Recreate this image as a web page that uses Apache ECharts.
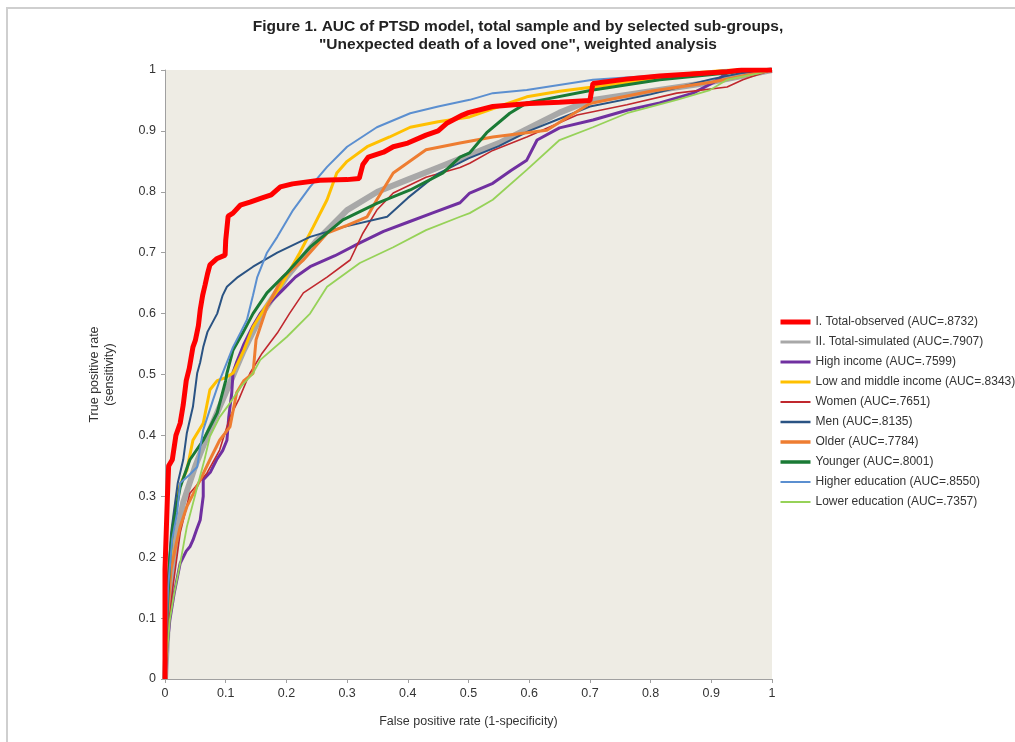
<!DOCTYPE html>
<html>
<head>
<meta charset="utf-8">
<script src="https://cdn.jsdelivr.net/npm/echarts@6/dist/echarts.min.js"></script>
<style>
html,body{margin:0;padding:0;background:#fff;}
#chart{position:absolute;left:0;top:0;width:1015px;height:742px;}
#frame{position:absolute;left:6px;top:7px;width:1015px;height:742px;border-top:2px solid #cfcfcf;border-left:2px solid #cfcfcf;pointer-events:none;}
</style>
</head>
<body>
<div id="chart"></div>
<div id="frame"></div>
<script>
const seriesNames = [
  "I. Total-observed (AUC=.8732)",
  "II. Total-simulated (AUC=.7907)",
  "High income (AUC=.7599)",
  "Low and middle income (AUC=.8343)",
  "Women (AUC=.7651)",
  "Men (AUC=.8135)",
  "Older (AUC=.7784)",
  "Younger (AUC=.8001)",
  "Higher education (AUC=.8550)",
  "Lower education (AUC=.7357)"
];
const xTicks = [0,0.1,0.2,0.3,0.4,0.5,0.6,0.7,0.8,0.9,1];
const yTicks = [0,0.1,0.2,0.3,0.4,0.5,0.6,0.7,0.8,0.9,1];

const totalObserved = [[0,0],[0,0.18],[0.004,0.3],[0.006,0.35],[0.012,0.36],[0.018,0.4],[0.025,0.42],[0.03,0.45],[0.035,0.49],[0.04,0.51],[0.046,0.545],[0.05,0.556],[0.055,0.58],[0.058,0.606],[0.062,0.63],[0.066,0.647],[0.07,0.665],[0.074,0.68],[0.085,0.69],[0.099,0.696],[0.1,0.72],[0.104,0.76],[0.112,0.765],[0.124,0.778],[0.14,0.783],[0.16,0.79],[0.175,0.795],[0.19,0.808],[0.21,0.813],[0.255,0.819],[0.3,0.82],[0.32,0.822],[0.326,0.845],[0.335,0.857],[0.36,0.865],[0.376,0.874],[0.4,0.88],[0.43,0.893],[0.45,0.9],[0.465,0.913],[0.49,0.926],[0.5,0.93],[0.54,0.94],[0.6,0.945],[0.65,0.947],[0.7,0.95],[0.705,0.978],[0.76,0.985],[0.815,0.99],[0.926,0.997],[0.95,1],[1,1]];
const totalSimulated = [[0,0],[0.005,0.1],[0.01,0.17],[0.02,0.24],[0.03,0.29],[0.05,0.35],[0.07,0.4],[0.1,0.47],[0.13,0.54],[0.16,0.6],[0.2,0.66],[0.25,0.72],[0.3,0.77],[0.35,0.8],[0.4,0.82],[0.45,0.84],[0.5,0.86],[0.55,0.88],[0.6,0.905],[0.65,0.93],[0.7,0.95],[0.8,0.965],[0.9,0.98],[0.95,0.99],[1,1]];
const highIncome = [[0,0],[0.003,0.05],[0.008,0.097],[0.015,0.14],[0.025,0.19],[0.035,0.21],[0.041,0.217],[0.046,0.228],[0.052,0.245],[0.058,0.261],[0.063,0.3],[0.063,0.327],[0.075,0.34],[0.085,0.36],[0.095,0.375],[0.102,0.392],[0.105,0.43],[0.11,0.47],[0.112,0.502],[0.118,0.52],[0.13,0.55],[0.145,0.58],[0.157,0.6],[0.175,0.62],[0.194,0.639],[0.215,0.66],[0.239,0.677],[0.28,0.695],[0.321,0.716],[0.36,0.735],[0.4,0.75],[0.44,0.765],[0.486,0.782],[0.502,0.798],[0.54,0.814],[0.57,0.835],[0.596,0.852],[0.613,0.885],[0.65,0.905],[0.705,0.918],[0.761,0.934],[0.815,0.946],[0.87,0.962],[0.903,0.979],[0.926,0.995],[0.95,1],[1,1]];
const lowMiddleIncome = [[0,0],[0.003,0.1],[0.008,0.18],[0.013,0.25],[0.021,0.31],[0.036,0.343],[0.046,0.392],[0.063,0.42],[0.074,0.475],[0.086,0.49],[0.1,0.495],[0.112,0.502],[0.13,0.54],[0.145,0.578],[0.165,0.61],[0.19,0.644],[0.205,0.67],[0.222,0.7],[0.244,0.742],[0.267,0.787],[0.283,0.831],[0.3,0.85],[0.333,0.874],[0.37,0.89],[0.404,0.906],[0.45,0.915],[0.502,0.923],[0.55,0.94],[0.596,0.956],[0.65,0.965],[0.705,0.972],[0.8,0.985],[0.87,0.995],[0.93,1],[1,1]];
const women = [[0,0],[0.005,0.08],[0.013,0.151],[0.025,0.24],[0.041,0.305],[0.069,0.338],[0.09,0.376],[0.107,0.43],[0.122,0.46],[0.135,0.491],[0.14,0.502],[0.16,0.535],[0.185,0.568],[0.205,0.6],[0.228,0.634],[0.267,0.66],[0.305,0.688],[0.326,0.732],[0.349,0.77],[0.376,0.798],[0.43,0.824],[0.486,0.84],[0.502,0.847],[0.54,0.868],[0.596,0.89],[0.679,0.926],[0.761,0.943],[0.843,0.962],[0.926,0.972],[0.952,0.984],[0.97,0.99],[1,1]];
const men = [[0,0],[0.003,0.141],[0.01,0.24],[0.021,0.322],[0.03,0.36],[0.036,0.404],[0.046,0.447],[0.053,0.502],[0.058,0.52],[0.063,0.545],[0.07,0.57],[0.086,0.6],[0.095,0.63],[0.102,0.644],[0.12,0.66],[0.145,0.677],[0.185,0.7],[0.239,0.726],[0.293,0.742],[0.366,0.759],[0.4,0.79],[0.45,0.83],[0.5,0.855],[0.55,0.875],[0.6,0.9],[0.65,0.92],[0.7,0.94],[0.8,0.96],[0.9,0.985],[0.95,0.995],[1,1]];
const older = [[0,0],[0.004,0.1],[0.01,0.18],[0.018,0.22],[0.025,0.25],[0.036,0.283],[0.058,0.327],[0.074,0.36],[0.09,0.392],[0.107,0.414],[0.118,0.47],[0.13,0.49],[0.145,0.502],[0.15,0.557],[0.168,0.611],[0.194,0.66],[0.228,0.688],[0.267,0.732],[0.3,0.745],[0.333,0.759],[0.349,0.787],[0.376,0.831],[0.43,0.869],[0.486,0.88],[0.54,0.89],[0.629,0.901],[0.7,0.945],[0.8,0.965],[0.9,0.98],[1,1]];
const younger = [[0,0],[0.004,0.12],[0.008,0.2],[0.013,0.25],[0.025,0.315],[0.041,0.36],[0.063,0.392],[0.086,0.437],[0.1,0.49],[0.102,0.502],[0.112,0.54],[0.128,0.568],[0.145,0.6],[0.168,0.634],[0.201,0.667],[0.239,0.709],[0.293,0.754],[0.349,0.781],[0.404,0.803],[0.458,0.831],[0.486,0.857],[0.502,0.864],[0.53,0.897],[0.568,0.929],[0.596,0.946],[0.705,0.967],[0.815,0.984],[0.926,0.995],[0.96,1],[1,1]];
const higherEducation = [[0,0],[0.005,0.15],[0.012,0.23],[0.02,0.273],[0.025,0.322],[0.04,0.335],[0.053,0.348],[0.058,0.38],[0.063,0.409],[0.079,0.458],[0.09,0.49],[0.102,0.52],[0.112,0.545],[0.125,0.57],[0.135,0.59],[0.145,0.63],[0.152,0.66],[0.168,0.7],[0.185,0.726],[0.211,0.77],[0.239,0.808],[0.267,0.841],[0.3,0.874],[0.349,0.906],[0.404,0.929],[0.45,0.94],[0.502,0.951],[0.54,0.962],[0.596,0.967],[0.705,0.984],[0.87,0.995],[0.93,1],[1,1]];
const lowerEducation = [[0,0],[0.003,0.04],[0.008,0.097],[0.015,0.14],[0.025,0.19],[0.036,0.25],[0.053,0.315],[0.065,0.36],[0.074,0.398],[0.09,0.43],[0.107,0.453],[0.125,0.48],[0.145,0.502],[0.157,0.524],[0.201,0.562],[0.239,0.6],[0.267,0.644],[0.321,0.683],[0.376,0.709],[0.43,0.737],[0.486,0.759],[0.502,0.765],[0.54,0.787],[0.596,0.836],[0.65,0.885],[0.705,0.906],[0.761,0.929],[0.843,0.951],[0.898,0.967],[0.926,0.984],[0.98,0.995],[1,1]];

const seriesData = [totalObserved,totalSimulated,highIncome,lowMiddleIncome,women,men,older,younger,higherEducation,lowerEducation];
const colors = ['#ff0000','#a8a8a8','#7030a0','#ffc000','#c0282e','#2a5383','#ee7d31','#1a7a35','#5b8fd0','#96d258'];
const widths = [5,6,3,3,1.6,2,3,3,2,1.8];
const legendWidths = [5,3,3,3,2,2.5,3.5,3.5,2,2];
const zs = [5,2,3,3,3,3,3,3,3,3];

const FONT = '"Liberation Sans", Arial, sans-serif';
const chart = echarts.init(document.getElementById('chart'));
chart.setOption({
  animation:false,
  backgroundColor:'#fff',
  title:{
    text:'Figure 1. AUC of PTSD model, total sample and by selected sub-groups,\n"Unexpected death of a loved one", weighted analysis',
    left:513, textAlign:'center', top:13,
    textStyle:{fontFamily:FONT,fontSize:15.5,fontWeight:'bold',color:'#222',lineHeight:18}
  },
  legend:{
    orient:'vertical', left:773, top:311,
    itemWidth:30, itemHeight:14, itemGap:8,
    data:seriesNames.map((n,i)=>({name:n,lineStyle:{width:legendWidths[i],color:colors[i]}})),
    itemStyle:{opacity:0},
    textStyle:{fontFamily:FONT,fontSize:12,color:'#333'}
  },
  grid:{left:165,right:243,top:70,bottom:63,show:true,backgroundColor:'#eeece4',borderWidth:0},
  xAxis:{
    type:'value',min:0,max:1,interval:0.1,
    name:'False positive rate (1-specificity)',nameLocation:'middle',nameGap:36,
    nameTextStyle:{fontFamily:FONT,fontSize:12.5,color:'#333'},
    axisLine:{show:true,lineStyle:{color:'#a0a0a0'}},
    axisTick:{show:true,length:4,lineStyle:{color:'#a0a0a0'}},
    splitLine:{show:false},
    axisLabel:{fontFamily:FONT,fontSize:12.5,color:'#333',margin:8,formatter:v=>{const t=xTicks.find(k=>Math.abs(k-v)<1e-9);return t===undefined?'':String(t);}}
  },
  yAxis:{
    type:'value',min:0,max:1,interval:0.1,
    name:'True positive rate\n(sensitivity)',nameLocation:'middle',nameGap:48,
    nameTextStyle:{fontFamily:FONT,fontSize:12.5,color:'#333',lineHeight:15},
    axisLine:{show:true,lineStyle:{color:'#a0a0a0'}},
    axisTick:{show:true,length:4,lineStyle:{color:'#a0a0a0'}},
    splitLine:{show:false},
    axisLabel:{fontFamily:FONT,fontSize:12.5,color:'#333',margin:9,formatter:v=>{const t=yTicks.find(k=>Math.abs(k-v)<1e-9);return t===undefined?'':String(t);}}
  },
  series:seriesNames.map((n,i)=>({
    name:n,type:'line',data:seriesData[i],symbol:'none',showSymbol:false,z:zs[i],
    itemStyle:{color:colors[i]},
    lineStyle:{color:colors[i],width:widths[i]}
  }))
});
</script>
</body>
</html>
